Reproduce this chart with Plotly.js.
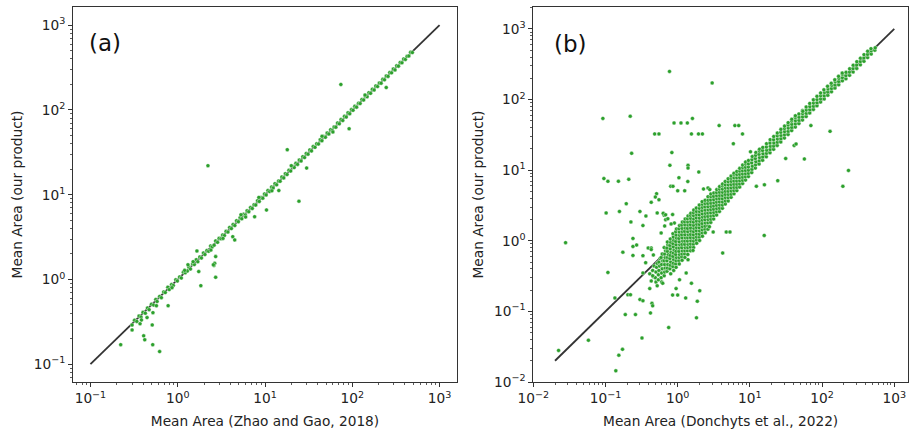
<!DOCTYPE html>
<html><head><meta charset="utf-8">
<script src="https://cdn.plot.ly/plotly-3.0.1.min.js"></script>
<style>html,body{margin:0;padding:0;background:#fff}#chart{width:909px;height:430px}</style>
</head><body><div id="chart"></div>
<script>
// Panel (a): Zhao and Gao (2018) vs our product — [x, y] pairs
const aBand = [
[0.30,0.29],[0.32,0.33],[0.34,0.32],[0.36,0.37],[0.38,0.36],[0.40,0.41],[0.425,0.40],[0.45,0.46],[0.47,0.44],[0.50,0.51],
[0.53,0.50],[0.56,0.58],[0.58,0.55],[0.62,0.63],[0.65,0.61],[0.69,0.71],[0.72,0.70],[0.77,0.81],[0.80,0.76],[0.85,0.87],
[0.89,0.85],[0.95,0.99],[0.99,0.96],[1.05,1.07],[1.10,1.04],[1.16,1.22],[1.22,1.20],[1.29,1.26],[1.34,1.40],[1.40,1.33],
[1.48,1.52],[1.55,1.50],[1.63,1.71],[1.70,1.62],[1.79,1.84],[1.87,1.79],[1.97,2.05],[2.05,1.97],[2.16,2.20],[2.26,2.15],
[2.38,2.48],[2.48,2.42],[2.61,2.54],[2.72,2.85],[2.86,2.74],[2.98,3.06],[3.13,3.02],[3.27,3.34],[3.43,3.30],[3.58,3.70],
[3.76,3.62],[3.93,4.10],[4.12,3.98],[4.31,4.45],[4.51,4.33],[4.72,4.93],[4.95,4.80],[5.18,5.35],[5.42,5.20],[5.68,5.90],
[5.95,5.75],[6.23,6.45],[6.52,6.30],[6.83,7.05],[7.15,6.88],[7.49,7.62],[7.84,7.55],[8.21,8.50],[8.60,8.32],[9.00,9.30],
[9.43,9.10],[9.87,10.2],[10.3,9.95],[10.8,11.2],[11.3,10.9],[11.9,12.3],[12.4,12.0],[13.0,13.5],[13.6,13.1],[14.3,14.5],
[14.9,14.4],[15.6,16.2],[16.4,15.8],[17.1,17.7],[17.9,17.3],[18.8,19.5],[19.7,19.0],[20.6,21.6],[21.6,20.9],[22.6,23.5],
[23.6,22.8],[24.7,25.6],[25.9,25.0],[27.1,28.1],[28.4,27.4],[29.7,30.7],[31.1,30.1],[32.6,33.8],[34.1,32.9],[35.7,37.0],
[37.4,36.2],[39.1,39.9],[41.0,39.6],[42.9,44.4],[44.9,43.3],[47.0,48.6],[49.2,47.6],[51.5,53.4],[53.9,52.0],[56.5,58.4],
[59.1,57.2],[61.9,63.0],[64.8,62.6],[67.8,70.1],[71.0,68.6],[74.3,77.0],[77.8,75.1],[81.5,84.3],[85.3,82.4],[89.3,92.5],
[93.5,90.3],[97.9,101],[102,99],[107,111],[112,108],[118,120],[123,119],[129,133],[135,131],[141,146],
[148,143],[155,160],[162,157],[170,176],[178,172],[186,192],[195,189],[204,208],[214,207],[224,231],
[234,227],[245,252],[257,249],[269,277],[282,274],[295,304],[309,297],[323,332],[338,329],[354,364],
[371,360],[388,399],[406,395],[425,430],[445,433],[466,479],[488,476],
[1.2,1.28],[1.5,1.62],[2.4,2.22],[3.3,3.05],[6.0,5.45],[5.3,5.8],[12,11.1],[20,22],[8.5,9.3],[45,49],
[60,55],[0.86,0.80],[1.31,1.49],[2.6,1.46],[2.65,1.55],[4.27,3.2],[0.37,0.30],[0.445,0.355],[0.57,0.49],[140,150]
];
const aOutliers = [
[2.22,22],[74,200],[245,184],[92,60],[18,34],[30,20.6],[24.5,8.4],[14.4,11.2],[10.4,6.6],[7.6,5.5],
[4.5,2.93],[2.72,1.86],[2.56,1.49],[2.72,1.06],[1.84,0.845],[1.74,1.24],[1.66,2.17],[0.776,0.49],[0.52,0.406],[0.51,0.291],
[0.407,0.216],[0.419,0.194],[0.517,0.17],[0.62,0.141],[0.222,0.17],[0.3,0.254],[0.384,0.333]
];

// Panel (b): Donchyts et al. (2022) vs our product
const bBand = [
[0.41,0.34],[0.43,0.27],
[0.45,0.38],[0.46,0.31],[0.47,0.44],
[0.49,0.30],[0.50,0.36],[0.51,0.42],[0.50,0.26],[0.52,0.48],
[0.54,0.33],[0.55,0.38],[0.56,0.44],[0.55,0.50],[0.54,0.28],[0.57,0.56],
[0.59,0.30],[0.60,0.35],[0.61,0.40],[0.60,0.46],[0.62,0.52],[0.59,0.58],[0.61,0.65],[0.60,0.26],
[0.65,0.32],[0.66,0.36],[0.67,0.41],[0.66,0.46],[0.65,0.52],[0.67,0.58],[0.66,0.65],[0.68,0.72],[0.65,0.80],
[0.71,0.37],[0.72,0.41],[0.73,0.46],[0.71,0.52],[0.72,0.58],[0.74,0.64],[0.72,0.71],[0.71,0.79],[0.73,0.88],[0.72,0.96],
[0.78,0.40],[0.79,0.45],[0.80,0.50],[0.78,0.56],[0.79,0.62],[0.81,0.69],[0.79,0.77],[0.78,0.86],[0.80,0.95],[0.79,1.06],[0.80,0.34],
[0.86,0.43],[0.87,0.48],[0.88,0.54],[0.86,0.60],[0.87,0.67],[0.89,0.74],[0.87,0.82],[0.86,0.91],[0.88,1.01],[0.87,1.13],[0.86,1.26],[0.88,0.38],
[0.94,0.47],[0.95,0.52],[0.96,0.58],[0.94,0.64],[0.95,0.71],[0.97,0.79],[0.95,0.88],[0.94,0.98],[0.96,1.09],[0.95,1.21],[0.94,1.34],[0.96,1.47],[0.95,0.42],
[1.04,0.52],[1.05,0.58],[1.06,0.64],[1.04,0.71],[1.05,0.79],[1.07,0.88],[1.05,0.97],[1.04,1.08],[1.06,1.20],[1.05,1.33],[1.04,1.48],[1.06,1.64],[1.05,0.47],
[1.14,0.59],[1.15,0.65],[1.16,0.72],[1.14,0.80],[1.15,0.89],[1.17,0.99],[1.15,1.10],[1.14,1.22],[1.16,1.35],[1.15,1.50],[1.14,1.67],[1.16,1.84],[1.15,0.53],
[1.25,0.65],[1.26,0.72],[1.27,0.80],[1.25,0.89],[1.26,0.99],[1.28,1.10],[1.26,1.22],[1.25,1.36],[1.27,1.51],[1.26,1.68],[1.25,1.86],[1.27,2.04],[1.26,0.58],
[1.37,0.72],[1.38,0.80],[1.39,0.89],[1.37,0.99],[1.38,1.10],[1.40,1.22],[1.38,1.35],[1.37,1.50],[1.39,1.67],[1.38,1.85],[1.37,2.05],[1.39,2.25],[1.38,0.64],
[1.50,0.81],[1.51,0.90],[1.52,1.00],[1.50,1.11],[1.51,1.23],[1.53,1.37],[1.51,1.52],[1.50,1.69],[1.52,1.87],[1.51,2.08],[1.50,2.30],[1.52,2.46],[1.51,0.72],
[1.65,0.89],[1.66,0.99],[1.67,1.10],[1.65,1.22],[1.66,1.35],[1.68,1.50],[1.66,1.66],[1.65,1.84],[1.67,2.04],[1.66,2.27],[1.65,2.50],[1.67,2.72],[1.66,0.80],
[1.81,1.02],[1.82,1.13],[1.83,1.25],[1.81,1.39],[1.82,1.54],[1.84,1.71],[1.82,1.90],[1.81,2.11],[1.83,2.34],[1.82,2.60],[1.81,2.90],[1.83,0.92],
[1.99,1.12],[2.00,1.24],[2.01,1.38],[1.99,1.53],[2.00,1.70],[2.02,1.89],[2.00,2.10],[1.99,2.33],[2.01,2.59],[2.00,2.88],[1.99,3.20],[2.01,1.01],
[2.18,1.29],[2.19,1.43],[2.20,1.59],[2.18,1.76],[2.19,1.96],[2.21,2.17],[2.19,2.41],[2.18,2.68],[2.20,2.97],[2.19,3.30],[2.18,3.58],[2.20,1.16],
[2.39,1.45],[2.40,1.61],[2.41,1.79],[2.39,1.99],[2.40,2.21],[2.42,2.45],[2.40,2.72],[2.39,3.02],[2.41,3.36],[2.40,3.75],[2.41,1.30],
[2.62,1.62],[2.63,1.80],[2.64,2.00],[2.62,2.22],[2.63,2.47],[2.65,2.74],[2.63,3.04],[2.62,3.38],[2.64,3.75],[2.63,4.20],[2.62,1.46],
[2.87,1.82],[2.88,2.02],[2.89,2.24],[2.87,2.49],[2.88,2.77],[2.90,3.07],[2.88,3.41],[2.87,3.79],[2.89,4.21],[2.88,4.6],
[3.15,2.04],[3.16,2.27],[3.17,2.52],[3.15,2.80],[3.16,3.11],[3.18,3.45],[3.16,3.83],[3.15,4.26],[3.17,4.75],
[3.46,2.32],[3.47,2.58],[3.48,2.86],[3.46,3.18],[3.47,3.53],[3.49,3.92],[3.47,4.35],[3.46,4.83],[3.48,5.30],
[3.79,2.60],[3.80,2.89],[3.81,3.21],[3.79,3.56],[3.80,3.95],[3.82,4.39],[3.80,4.87],[3.79,5.40],[3.81,5.85],
[4.16,2.88],[4.17,3.20],[4.18,3.55],[4.16,3.94],[4.17,4.38],[4.19,4.86],[4.17,5.40],[4.16,6.0],[4.18,6.35],
[4.56,3.31],[4.57,3.67],[4.58,4.08],[4.56,4.53],[4.57,5.03],[4.59,5.58],[4.57,6.20],[4.56,6.90],
[5.00,3.67],[5.01,4.08],[5.02,4.53],[5.00,5.03],[5.01,5.58],[5.03,6.20],[5.01,6.88],[5.00,7.55],
[5.49,4.12],[5.50,4.57],[5.51,5.07],[5.49,5.63],[5.50,6.25],[5.52,6.94],[5.50,7.70],[5.49,8.25],
[6.02,4.62],[6.03,5.13],[6.04,5.70],[6.02,6.33],[6.03,7.02],[6.05,7.80],[6.03,8.60],[6.02,9.05],
[6.59,5.13],[6.60,5.70],[6.61,6.33],[6.59,7.03],[6.60,7.80],[6.62,8.66],[6.60,9.6],
[7.23,5.75],[7.24,6.38],[7.25,7.08],[7.23,7.86],[7.24,8.73],[7.26,9.69],[7.24,10.6],
[7.93,6.46],[7.94,7.17],[7.95,7.96],[7.93,8.84],[7.94,9.81],[7.96,10.9],[7.94,11.8],
[8.70,7.24],[8.71,8.04],[8.72,8.92],[8.70,9.90],[8.71,11.0],[8.73,12.2],[8.71,13.0],
[9.54,8.13],[9.55,9.02],[9.56,10.0],[9.54,11.1],[9.55,12.3],[9.57,13.7],
[10.6,9.23],[10.7,10.3],[10.8,11.4],[10.6,12.7],[10.7,14.1],[10.8,15.6],
[11.9,10.7],[12.0,11.9],[12.1,13.2],[11.9,14.6],[12.0,16.2],[12.1,17.8],
[13.4,12.2],[13.5,13.6],[13.6,15.1],[13.4,16.8],[13.5,18.6],[13.6,19.8],
[15.0,13.8],[15.1,15.4],[15.2,17.1],[15.0,19.0],[15.1,21.0],
[16.9,15.5],[17.0,17.3],[17.1,19.2],[16.9,21.3],[17.0,23.7],
[19.0,17.6],[19.1,19.6],[19.2,21.8],[19.0,24.2],[19.1,27.0],
[21.3,19.7],[21.4,21.9],[21.5,24.3],[21.3,27.0],[21.4,30.0],
[23.9,22.4],[24.0,24.9],[24.1,27.6],[23.9,30.7],[24.0,33.6],
[26.8,25.1],[26.9,27.9],[27.0,31.0],[26.8,34.4],[26.9,37.8],
[30.1,28.5],[30.2,31.7],[30.3,35.2],[30.1,39.0],[30.2,42.0],
[33.8,32.0],[33.9,35.5],[34.0,39.4],[33.8,43.7],[33.9,47.0],
[37.9,36.3],[38.0,40.3],[38.1,44.7],[37.9,49.6],[38.0,52.5],
[42.6,40.7],[42.7,45.2],[42.8,50.2],[42.6,55.7],[42.7,58.9],
[47.8,45.7],[47.9,50.7],[48.0,56.3],[47.8,62.5],
[53.6,51.3],[53.7,56.9],[53.8,63.2],[53.6,70.1],
[60.2,57.5],[60.3,63.8],[60.4,70.8],[60.2,78.6],
[67.5,64.6],[67.6,71.7],[67.7,79.5],[67.5,88.0],
[75.8,72.4],[75.9,80.4],[76.0,89.2],[75.8,99.0],
[85.0,81.3],[85.1,90.2],[85.2,100],[85.0,111],
[95.4,92.3],[95.5,102],[95.6,113],[95.4,124],
[107,102],[107,113],[108,126],[106,137],
[120,115],[120,128],[121,141],[119,154],
[135,129],[135,143],[136,159],[134,170],
[151,145],[151,161],[152,178],[150,190],
[170,162],[170,180],[171,200],[169,213],
[191,184],[191,204],[192,226],[190,237],
[214,196],[214,218],[215,243],
[240,220],[240,245],[241,272],
[269,246],[269,274],[270,306],
[302,276],[302,308],[303,343],
[339,310],[339,345],[340,385],
[380,348],[380,388],[381,432],
[427,392],[427,436],[428,484],
[479,440],[479,490],[476,525],
[537,500],[545,540]
];
const bOutliers = [
[0.77,250],[3.0,172],[0.092,54],[0.22,58],[0.89,46.6],[1.11,46.6],[1.36,46.6],[1.6,54],[3.75,42.7],[6.2,42.7],
[7.0,42.7],[7.9,32.6],[0.48,32.6],[0.55,32.6],[1.55,32.6],[1.94,32.6],[2.2,32.6],[5.9,23.7],[0.23,17.3],[0.83,17.7],
[56.8,14.4],[31.3,14.6],[0.78,11.7],[1.39,11.7],[1.39,10.7],[1.96,9.4],[0.095,7.6],[0.108,6.95],[0.151,6.95],[0.21,7.4],
[1.04,7.8],[0.8,5.9],[0.86,5.9],[232,9.9],[194,5.9],[24.3,7.1],[0.194,3.35],[0.51,4.64],[0.49,4.17],[0.43,3.5],
[0.30,2.6],[0.156,2.6],[0.102,2.48],[0.225,1.85],[0.33,1.64],[0.65,2.29],[0.68,1.99],[0.028,0.94],[0.24,1.08],[0.24,0.83],
[0.27,0.87],[0.174,0.69],[0.33,0.615],[0.24,0.62],[0.39,0.79],[0.43,0.79],[0.108,0.356],[0.135,0.155],[0.188,0.09],[0.26,0.09],
[0.204,0.172],[0.222,0.172],[0.30,0.147],[0.33,0.141],[0.44,0.13],[0.42,0.095],[0.45,0.12],[0.75,0.059],[1.82,0.081],[0.32,0.042],
[0.058,0.039],[0.0224,0.028],[0.172,0.029],[0.153,0.024],[0.139,0.0144],[4.2,0.67],[15.8,1.19],[129,35.4],[1.87,0.139],[2.02,0.196],
[1.29,0.155],[1.38,6.9],[1.0,5.1],[1.25,5.1],[2.28,5.4],[2.63,5.6],[2.78,5.3],[10.2,18.2],[15.9,6.2],[12.3,5.9],
[0.363,2.24],[0.52,2.48],[0.55,3.8],[0.85,2.35],[0.66,1.62],[0.9,1.78],[0.59,1.29],
[2.75,1.58],[3.1,1.33],[4.7,1.33],[5.3,1.33],[1.63,0.73],[1.39,0.54],[1.06,0.28],[0.95,0.21],[0.85,0.17],[1.0,0.17],
[1.31,0.35],[1.55,0.25],[70,42.7],[54,68],[41,22.4],[43.6,23.5],
[0.63,2.45],[0.68,2.33],[0.73,2.05],[0.81,1.73],[0.43,0.75],[0.46,0.63],[0.36,0.49],[0.33,0.35],[0.45,0.32],[0.52,0.23],[0.62,0.25],[0.41,0.21]
];

// 1:1 reference lines
const lineA = [0.1, 1000];
const lineB = [0.02, 1000];

// Tick labels
const ticksA = [0.1, 1, 10, 100, 1000];
const tickTextA = ['10<sup>\u22121</sup>', '10<sup>0</sup>', '10<sup>1</sup>', '10<sup>2</sup>', '10<sup>3</sup>'];
const ticksB = [0.01, 0.1, 1, 10, 100, 1000];
const tickTextB = ['10<sup>\u22122</sup>', '10<sup>\u22121</sup>', '10<sup>0</sup>', '10<sup>1</sup>', '10<sup>2</sup>', '10<sup>3</sup>'];

const xTitleA = 'Mean Area (Zhao and Gao, 2018)';
const xTitleB = 'Mean Area (Donchyts et al., 2022)';
const yTitle = 'Mean Area (our product)';
const panelLabels = ['(a)', '(b)'];

const GREEN = '#2ca02c';
const FONT = 'DejaVu Sans, sans-serif';
const FS = 13.7;

function minorTicks(lo, hi) {
  const v = [];
  for (let e = lo; e <= hi; e++) for (let m = 2; m <= 9; m++) v.push(m * Math.pow(10, e));
  return v;
}

const ptsA = aBand.concat(aOutliers);
const ptsB = bBand.concat(bOutliers);
const marker = {size: 4, color: GREEN, line: {color: '#ffffff', width: 0.4}};

const traces = [
  {x: lineA, y: lineA, xaxis: 'x', yaxis: 'y', mode: 'lines', line: {color: '#333', width: 1.8}, hoverinfo: 'skip'},
  {x: ptsA.map(p => p[0]), y: ptsA.map(p => p[1]), xaxis: 'x', yaxis: 'y', mode: 'markers', type: 'scatter', marker: marker},
  {x: lineB, y: lineB, xaxis: 'x2', yaxis: 'y2', mode: 'lines', line: {color: '#333', width: 1.8}, hoverinfo: 'skip'},
  {x: ptsB.map(p => p[0]), y: ptsB.map(p => p[1]), xaxis: 'x2', yaxis: 'y2', mode: 'markers', type: 'scatter', marker: marker}
];

function axis(extra, vals, text, minLo, minHi) {
  return Object.assign({
    type: 'log', showgrid: false, zeroline: false, showline: true, mirror: true,
    linecolor: '#333', linewidth: 1, ticks: 'outside', ticklen: 4, tickwidth: 1, tickcolor: '#333',
    tickmode: 'array', tickvals: vals, ticktext: text,
    tickfont: {family: FONT, size: FS, color: '#222'},
    minor: {ticks: 'outside', ticklen: 2, tickwidth: 0.8, tickcolor: '#333', tickmode: 'array', tickvals: minorTicks(minLo, minHi), showgrid: false}
  }, extra);
}

const W = 909, H = 430;
const layout = {
  width: W, height: H, autosize: false,
  margin: {l: 0, r: 0, t: 0, b: 0},
  paper_bgcolor: '#fff', plot_bgcolor: '#fff',
  showlegend: false,
  font: {family: FONT, color: '#222'},
  xaxis: axis({domain: [73 / W, 457 / W], range: [-1.2, 3.2], anchor: 'y',
    title: {text: xTitleA, font: {family: FONT, size: FS, color: '#222'}, standoff: 10}}, ticksA, tickTextA, -2, 3),
  yaxis: axis({domain: [1 - 382 / H, 1 - 7 / H], range: [-1.21, 3.215], anchor: 'x',
    title: {text: yTitle, font: {family: FONT, size: FS, color: '#222'}, standoff: 7}}, ticksA, tickTextA, -2, 3),
  xaxis2: axis({domain: [533.3 / W, 908 / W], range: [-2, 3.19], anchor: 'y2',
    title: {text: xTitleB, font: {family: FONT, size: FS, color: '#222'}, standoff: 10}}, ticksB, tickTextB, -3, 3),
  yaxis2: axis({domain: [1 - 382 / H, 1 - 7 / H], range: [-2, 3.31], anchor: 'x2',
    title: {text: yTitle, font: {family: FONT, size: FS, color: '#222'}, standoff: 7}}, ticksB, tickTextB, -3, 3),
  annotations: [
    {text: panelLabels[0], xref: 'paper', yref: 'paper', x: 87 / W, y: 1 - 43 / H, xanchor: 'left', yanchor: 'middle', showarrow: false, font: {family: FONT, size: 23, color: '#111'}},
    {text: panelLabels[1], xref: 'paper', yref: 'paper', x: 552 / W, y: 1 - 44 / H, xanchor: 'left', yanchor: 'middle', showarrow: false, font: {family: FONT, size: 23, color: '#111'}}
  ]
};

Plotly.newPlot('chart', traces, layout, {staticPlot: true, displayModeBar: false});
</script>
</body></html>
